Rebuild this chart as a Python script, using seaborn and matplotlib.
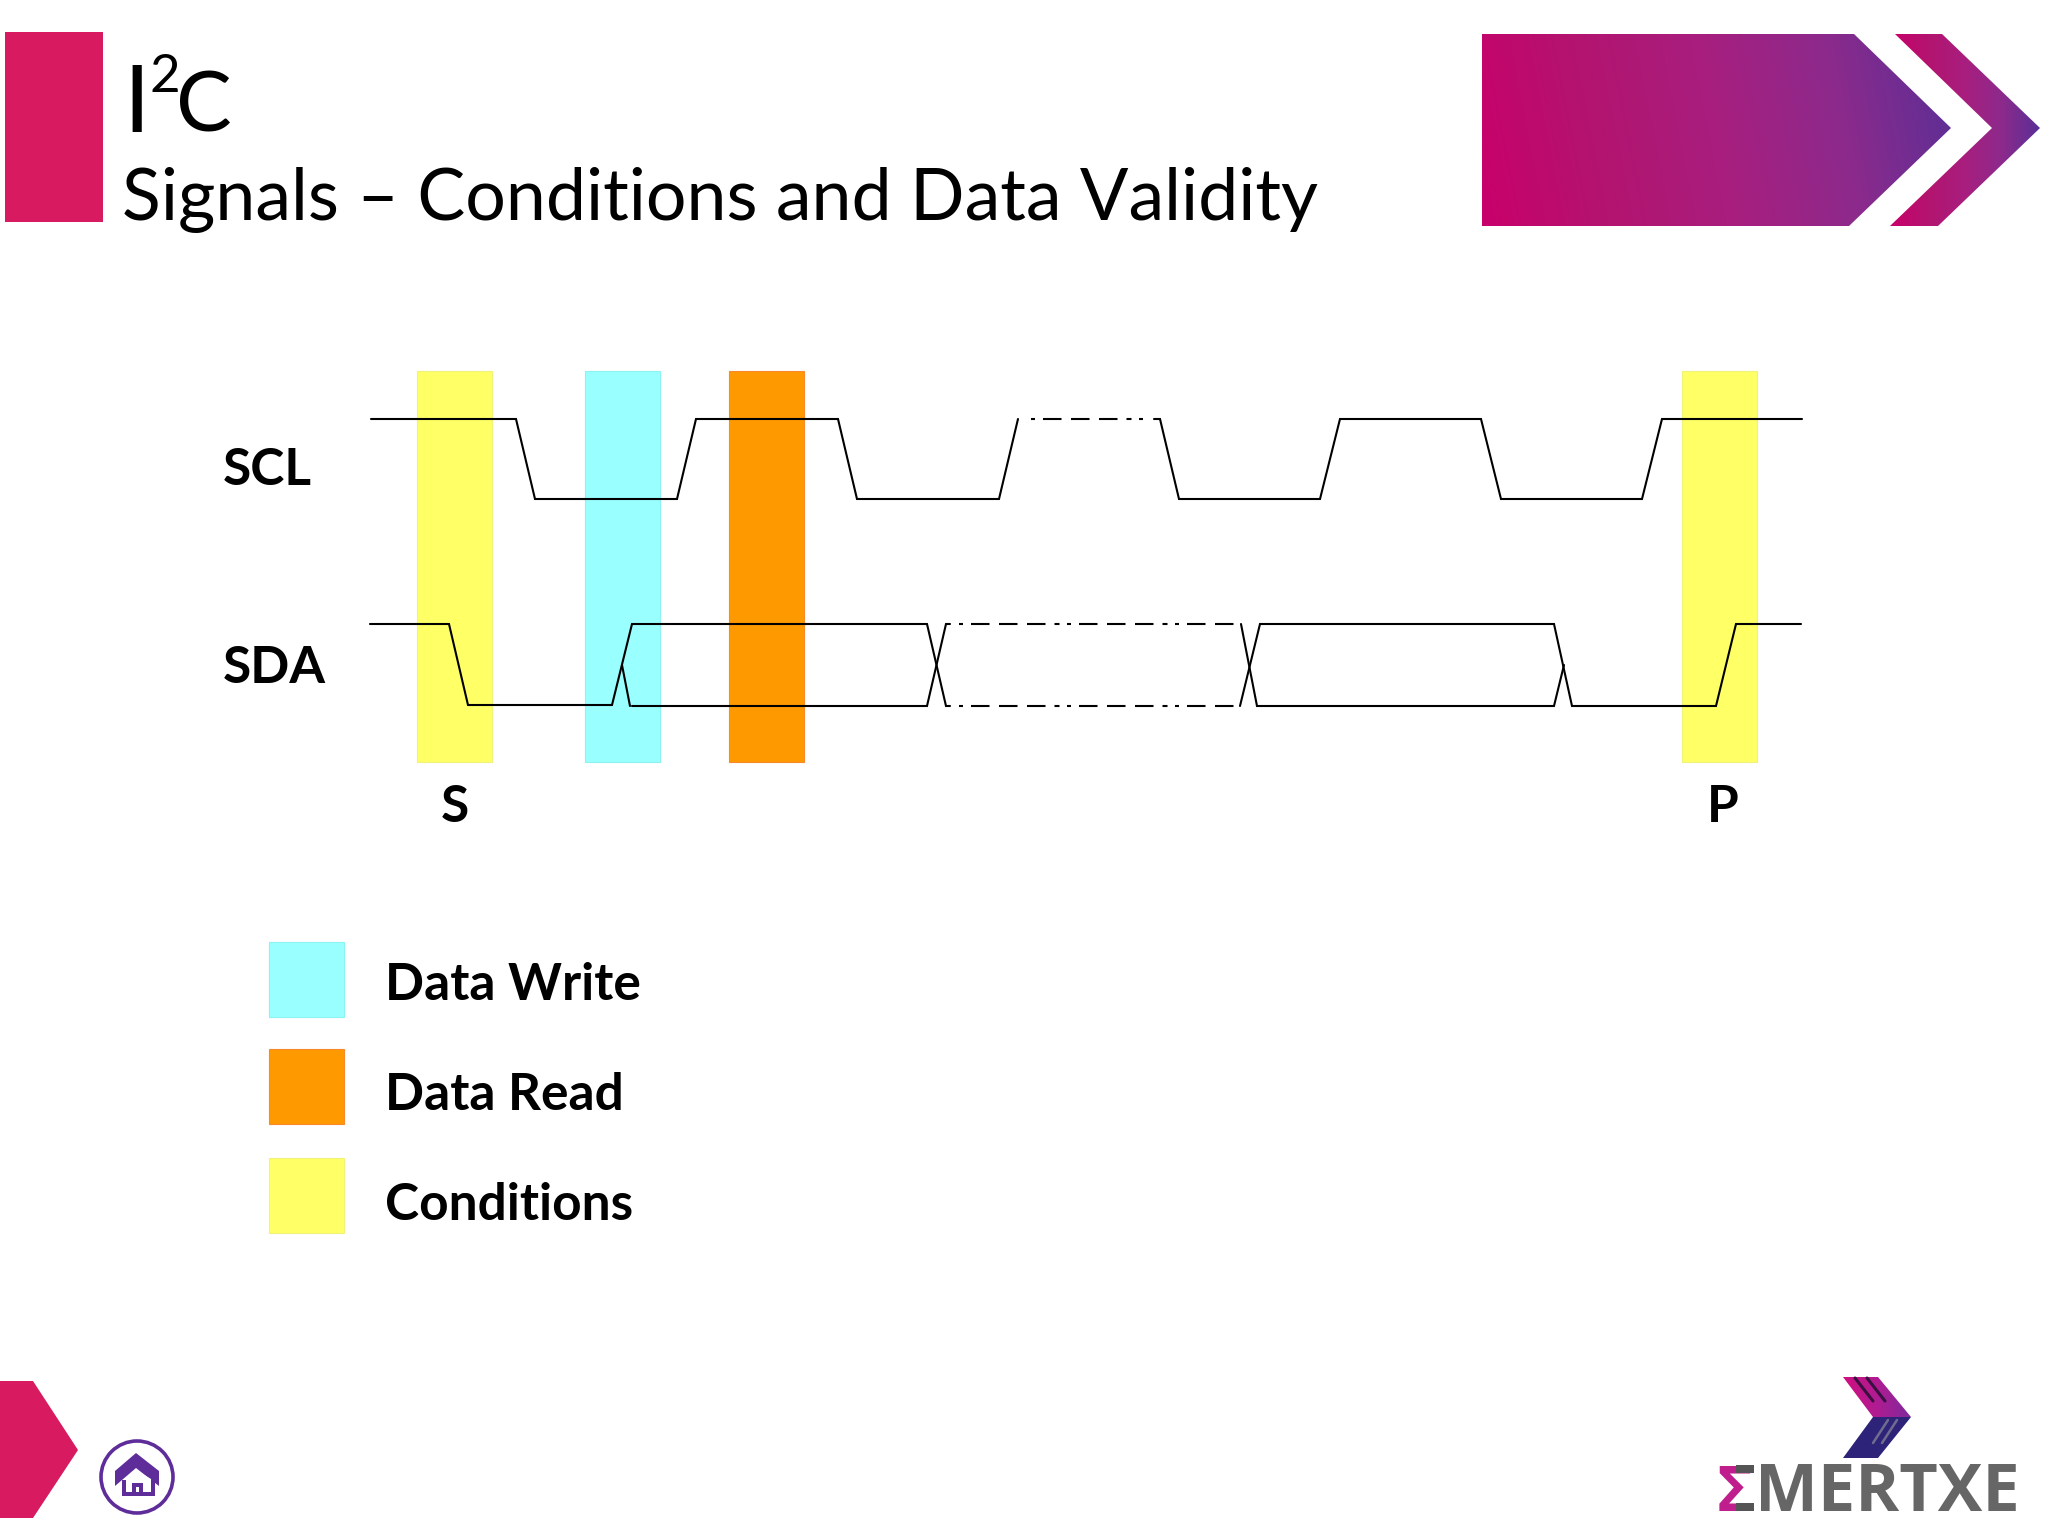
import numpy as np
import matplotlib
matplotlib.use("Agg")
import matplotlib.pyplot as plt
from matplotlib.colors import LinearSegmentedColormap
from matplotlib.patches import Polygon, Circle
import seaborn as sns

# everything is measured in reference pixels
WIDTH, HEIGHT = 2048, 1536

# SCL waveform
scl_x = [371, 516, 535, 677, 696, 838, 857, 999, 1018]
scl_y = [419, 419, 499, 499, 419, 419, 499, 499, 419]
scl_gap_x = [1031, 1148]
scl_x2 = [1154, 1160, 1179, 1320, 1340, 1481, 1501, 1642, 1662, 1802]
scl_y2 = [419, 419, 499, 499, 419, 419, 499, 499, 419, 419]

# SDA waveform, split where the two levels cross
sda_start_x = [370, 449, 468, 612, 632, 927, 946, 950]
sda_start_y = [624, 624, 705, 705, 624, 624, 706, 706]
sda_fall_x = [622, 630]
sda_fall_y = [665, 706]
sda_low_x = [632, 927, 946, 950]
sda_low_y = [706, 706, 624, 624]
sda_gap_x = [959, 1238]
sda_mid_x = [1241, 1257, 1554, 1564]
sda_mid_y = [624, 706, 706, 665]
sda_end_x = [1240, 1260, 1554, 1572, 1716, 1736, 1801]
sda_end_y = [706, 624, 624, 706, 706, 624, 624]

# highlighted windows
band_left = [417, 585, 729, 1682]
band_right = [492, 660, 804, 1757]
band_colors = ["#FFFF66", "#99FFFF", "#FF9900", "#FFFF66"]
band_edges = ["#F2F27A", "#8CF2F2", "#F98A2C", "#F2F27A"]
band_top, band_bottom = 371, 762

# legend
legend_labels = ["Data Write", "Data Read", "Conditions"]
legend_colors = ["#99FFFF", "#FF9900", "#FFFF66"]
legend_edges = ["#8CF2F2", "#F98A2C", "#F2F27A"]
legend_top = [942, 1049, 1158]
legend_baseline = [1000, 1110, 1220]

PINK = "#D81B60"
PURPLE = "#5E2D9A"
banner_colors = ["#C9006B", "#B3146F", "#A81E7E", "#8C2A8C", "#5A2F96"]

sns.set_theme(style="white")
plt.rcParams["lines.scale_dashes"] = False
plt.rcParams["lines.solid_joinstyle"] = "miter"

fig = plt.figure(figsize=(20.48, 15.36), dpi=100)
ax = fig.add_axes([0, 0, 1, 1])
ax.set_xlim(0, WIDTH)
ax.set_ylim(HEIGHT, 0)
ax.axis("off")

LW = 1.5
# dot, three dashes, two dots, in points at 100 dpi
DASH = (0, tuple(v * 0.72 for v in [4, 8, 18.5, 9.5, 18.5, 9.5, 18.5, 9, 5, 7.5]))


def wave(x, y, ls="-"):
    sns.lineplot(x=x, y=y, sort=False, estimator=None, color="black",
                 linewidth=LW, linestyle=ls, ax=ax, zorder=5, legend=False)


def gradient_poly(points, colors, tilt=0.0, zorder=3):
    # gradient image clipped to a polygon
    pts = np.array(points, dtype=float)
    x0, x1 = pts[:, 0].min(), pts[:, 0].max()
    y0, y1 = pts[:, 1].min(), pts[:, 1].max()
    xx, yy = np.meshgrid(np.linspace(0, 1, 300), np.linspace(0, 1, 100))
    cmap = LinearSegmentedColormap.from_list("grad", colors)
    im = ax.imshow(xx + tilt * (1 - yy), extent=(x0, x1, y1, y0), cmap=cmap,
                   aspect="auto", vmin=0, vmax=1 + tilt, zorder=zorder)
    patch = Polygon(pts, closed=True, transform=ax.transData, fc="none", ec="none")
    ax.add_patch(patch)
    im.set_clip_path(patch)


def poly(points, color, zorder=3):
    ax.add_patch(Polygon(points, closed=True, fc=color, ec="none", zorder=zorder))


# header
ax.bar(5, 190, width=98, bottom=32, align="edge", color=PINK, linewidth=0)
gradient_poly([(1482, 34), (1854, 34), (1951, 128), (1849, 226), (1482, 226)],
              banner_colors, tilt=0.08)
gradient_poly([(1895, 34), (1942, 34), (2040, 128), (1938, 226), (1890, 226), (1992, 128)],
              banner_colors, tilt=0.0)

ax.text(123, 132, "I", fontsize=68, family="Lato", va="baseline", color="black")
ax.text(149, 92, "2", fontsize=38, family="Lato", va="baseline", color="black")
ax.text(176, 132, "C", fontsize=60, family="Lato", va="baseline", color="black")
ax.text(122, 220, "Signals \u2013 Conditions and Data Validity", fontsize=51.7,
        family="Lato", va="baseline", color="black")

# highlighted windows under the signals
for left, right, c, e in zip(band_left, band_right, band_colors, band_edges):
    ax.bar(left, band_bottom - band_top, width=right - left, bottom=band_top,
           align="edge", color=c, edgecolor=e, linewidth=0.8, zorder=2)

# signals
wave(scl_x, scl_y)
wave(scl_gap_x, [419, 419], DASH)
wave(scl_x2, scl_y2)
wave(sda_start_x, sda_start_y)
wave(sda_fall_x, sda_fall_y)
wave(sda_low_x, sda_low_y)
wave(sda_gap_x, [624, 624], DASH)
wave(sda_gap_x, [706, 706], DASH)
wave(sda_mid_x, sda_mid_y)
wave(sda_end_x, sda_end_y)

BOLD = dict(fontsize=37, family="Lato", fontweight="bold", va="baseline", color="black")
ax.text(223, 485, "SCL", **BOLD)
ax.text(223, 683, "SDA", **BOLD)
ax.text(455, 822, "S", ha="center", **BOLD)
ax.text(1723, 822, "P", ha="center", **BOLD)

# legend
for label, c, e, top, base in zip(legend_labels, legend_colors, legend_edges,
                                  legend_top, legend_baseline):
    ax.bar(269, 75, width=75, bottom=top, align="edge", color=c, edgecolor=e, linewidth=0.8)
    ax.text(385, base, label, **BOLD)

# footer arrow and home button
poly([(0, 1381), (33, 1381), (78, 1450), (33, 1518), (0, 1518)], PINK)
ax.add_patch(Circle((137, 1477), 36, fc="white", ec=PURPLE, lw=2.6, zorder=3))
poly([(115, 1471), (136, 1453), (159, 1471), (159, 1486), (136, 1468), (115, 1486)], PURPLE, 4)
poly([(122, 1480), (155, 1480), (155, 1496), (122, 1496)], PURPLE, 4)
poly([(126, 1479), (136, 1470), (151, 1479), (151, 1492), (126, 1492)], "white", 5)
poly([(132, 1483), (143, 1483), (143, 1494), (139, 1494), (139, 1487), (136, 1487), (136, 1494), (132, 1494)], PURPLE, 6)

# logo
gradient_poly([(1843, 1377), (1878, 1377), (1911, 1417), (1873, 1417)],
              ["#D0107F", "#B01C92", "#7E2A9C"], zorder=3)
poly([(1873, 1417), (1911, 1417), (1878, 1458), (1843, 1458)], "#2D2378")
for x0, x1 in [(1855, 1873), (1867, 1885)]:
    ax.plot([x0, x1], [1378, 1401], color="#3A1040", lw=2.2, zorder=4)
for x0, x1 in [(1873, 1888), (1882, 1897)]:
    ax.plot([x0, x1], [1443, 1420], color="#6F6C8F", lw=1.8, zorder=4)
ax.text(1717, 1511, "\u03a3", fontsize=45, family="Open Sans", fontweight="bold",
        color="#C01E8C", va="baseline", zorder=4)
ax.bar(1736, 8, width=18, bottom=1465, align="edge", color="#555555", linewidth=0, zorder=5)
ax.bar(1736, 8, width=18, bottom=1503, align="edge", color="#555555", linewidth=0, zorder=5)
ax.text(1755, 1511, "MERTXE", fontsize=48, family="Open Sans", fontweight="bold",
        color="#666666", va="baseline")

ax.set_xlim(0, WIDTH)
ax.set_ylim(HEIGHT, 0)
fig.savefig("out.png", dpi=100, facecolor="white")
